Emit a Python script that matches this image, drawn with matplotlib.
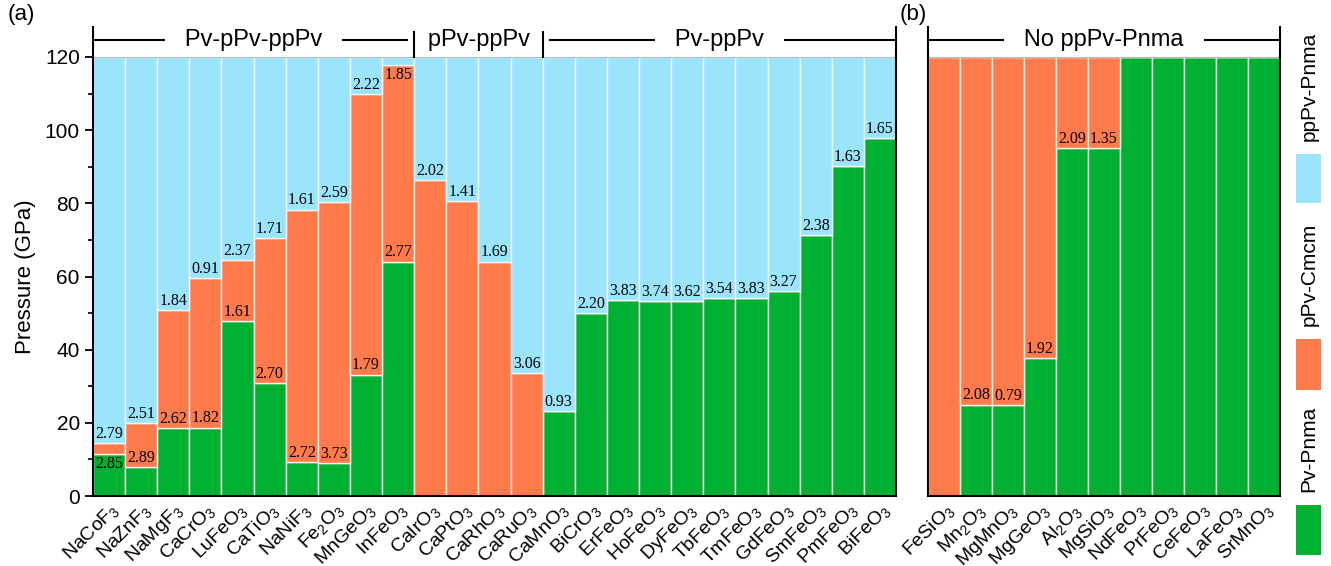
import matplotlib
matplotlib.use('Agg')
import matplotlib.pyplot as plt
import matplotlib.transforms as mtransforms
from matplotlib.patches import Rectangle
from matplotlib.ticker import MultipleLocator

plt.rcParams['font.family'] = ['Liberation Sans', 'DejaVu Sans']
plt.rcParams['mathtext.fontset'] = 'custom'
plt.rcParams['mathtext.rm'] = 'Liberation Sans'
plt.rcParams['mathtext.default'] = 'regular'

BLUE = '#9BE5FC'
ORANGE = '#FF7B4B'
GREEN = '#00B030'
TOP = 120

# panel (a)
left_names = ['NaCoF$_3$', 'NaZnF$_3$', 'NaMgF$_3$', 'CaCrO$_3$', 'LuFeO$_3$', 'CaTiO$_3$',
              'NaNiF$_3$', 'Fe$_2$O$_3$', 'MnGeO$_3$', 'InFeO$_3$',
              'CaIrO$_3$', 'CaPtO$_3$', 'CaRhO$_3$', 'CaRuO$_3$',
              'CaMnO$_3$', 'BiCrO$_3$', 'ErFeO$_3$', 'HoFeO$_3$', 'DyFeO$_3$', 'TbFeO$_3$',
              'TmFeO$_3$', 'GdFeO$_3$', 'SmFeO$_3$', 'PmFeO$_3$', 'BiFeO$_3$']
# Pv -> pPv (or Pv -> ppPv) transition pressure
left_pv = [11.4, 7.8, 18.5, 18.7, 47.9, 30.9, 9.4, 8.9, 33.2, 64.1,
           0, 0, 0, 0,
           23.3, 50.1, 53.5, 53.2, 53.3, 54.0, 54.2, 56.1, 71.4, 90.3, 97.8]
# pPv -> ppPv transition pressure
left_ppv = [14.5, 20.0, 50.8, 59.6, 64.5, 70.5, 78.3, 80.4, 109.9, 117.7,
            86.4, 80.6, 64.1, 33.5,
            23.3, 50.1, 53.5, 53.2, 53.3, 54.0, 54.2, 56.1, 71.4, 90.3, 97.8]
left_pv_lab = ['2.85', '2.89', '2.62', '1.82', '1.61', '2.70', '2.72', '3.73', '1.79', '2.77',
               None, None, None, None,
               '0.93', '2.20', '3.83', '3.74', '3.62', '3.54', '3.83', '3.27', '2.38', '1.63', '1.65']
left_ppv_lab = ['2.79', '2.51', '1.84', '0.91', '2.37', '1.71', '1.61', '2.59', '2.22', '1.85',
                '2.02', '1.41', '1.69', '3.06'] + [None] * 11
left_groups = [(0, 9, 'Pv-pPv-ppPv'), (10, 13, 'pPv-ppPv'), (14, 24, 'Pv-ppPv')]

# panel (b)
right_names = ['FeSiO$_3$', 'Mn$_2$O$_3$', 'MgMnO$_3$', 'MgGeO$_3$', 'Al$_2$O$_3$', 'MgSiO$_3$',
               'NdFeO$_3$', 'PrFeO$_3$', 'CeFeO$_3$', 'LaFeO$_3$', 'SrMnO$_3$']
right_pv = [0, 25.0, 24.9, 37.6, 95.2, 95.2, 120, 120, 120, 120, 120]
right_ppv = [120] * 11
right_pv_lab = [None, '2.08', '0.79', '1.92', '2.09', '1.35', None, None, None, None, None]
right_groups = [(0, 10, 'No ppPv-Pnma')]

fig = plt.figure(figsize=(13.31, 5.66), dpi=100)
axa = fig.add_axes([93 / 1331, 70 / 566, 803 / 1331, 439 / 566])
axb = fig.add_axes([928 / 1331, 70 / 566, 352 / 1331, 439 / 566])


def label(ax, x, y, gap, txt):
    # value text sits just above the boundary, or inside below it when little room
    if gap < 4:
        ax.text(x, y - 0.4, txt, ha='center', va='top', fontsize=11.5,
                family='Liberation Serif')
    else:
        ax.text(x, y + 0.3, txt, ha='center', va='bottom', fontsize=11.5,
                family='Liberation Serif')


def panel(ax, names, pv, ppv, pv_lab, ppv_lab, groups):
    x = list(range(len(names)))
    mid = [b - a for a, b in zip(pv, ppv)]
    top = [TOP - b for b in ppv]
    kw = dict(width=1.0, edgecolor='#F4F4F4', linewidth=1.0)
    ax.bar(x, pv, color=GREEN, **kw)
    ax.bar(x, mid, bottom=pv, color=ORANGE, **kw)
    ax.bar(x, top, bottom=ppv, color=BLUE, **kw)
    for i in x:
        if pv_lab[i]:
            label(ax, i, pv[i], ppv[i] - pv[i] if ppv[i] > pv[i] else TOP - pv[i], pv_lab[i])
        if ppv_lab and ppv_lab[i]:
            label(ax, i, ppv[i], TOP - ppv[i], ppv_lab[i])
    ax.set_xlim(-0.5, len(names) - 0.5)
    ax.set_ylim(0, TOP)
    ax.set_xticks(x)
    ax.set_xticklabels(names, rotation=45, ha='right', rotation_mode='anchor', fontsize=14)
    off = mtransforms.ScaledTranslation(0.08, 0, fig.dpi_scale_trans)
    for t in ax.get_xticklabels():
        t.set_transform(t.get_transform() + off)
    ax.tick_params(axis='x', length=0, pad=3)
    for s in ['left', 'right', 'bottom']:
        ax.spines[s].set_linewidth(1.5)
    ax.spines['top'].set_color('#BBBBBB')
    ax.spines['top'].set_linewidth(0.8)
    # group brackets above the panel
    yb = 124.6
    ax.plot([-0.5, len(names) - 0.5], [yb, yb], color='black', lw=1.5, clip_on=False, zorder=5)
    for a, b, name in groups:
        ax.text((a + b) / 2, yb, '   ' + name + '   ', ha='center', va='center', fontsize=17,
                bbox=dict(facecolor='white', edgecolor='none', pad=0), zorder=6, clip_on=False)
    ax.plot([-0.5, -0.5], [TOP, 128.2], color='black', lw=1.5, clip_on=False, zorder=7)
    ax.plot([len(names) - 0.5] * 2, [TOP, 128.2], color='black', lw=1.5, clip_on=False, zorder=7)
    for a, b, name in groups[1:]:
        ax.plot([a - 0.5, a - 0.5], [TOP, 126.8], color='black', lw=1.5, clip_on=False, zorder=7)


panel(axa, left_names, left_pv, left_ppv, left_pv_lab, left_ppv_lab, left_groups)
panel(axb, right_names, right_pv, right_ppv, right_pv_lab, None, right_groups)

axa.yaxis.set_major_locator(MultipleLocator(20))
axa.yaxis.set_minor_locator(MultipleLocator(10))
axa.tick_params(axis='y', which='major', direction='out', length=6, width=1.3, labelsize=15)
axa.tick_params(axis='y', which='minor', direction='out', length=3.5, width=1.2)
axa.set_ylabel('Pressure (GPa)', fontsize=16, labelpad=6)
axb.set_yticks([])

fig.text(8 / 1331, 1 - 4 / 566, '(a)', fontsize=16, ha='left', va='top')
fig.text(900 / 1331, 1 - 4 / 566, '(b)', fontsize=16, ha='left', va='top')

# legend strip on the right
axl = fig.add_axes([1290 / 1331, 0, 41 / 1331, 1])
axl.set_xlim(1290, 1331)
axl.set_ylim(566, 0)
axl.axis('off')
legend = [('ppPv-Pnma', BLUE, 86, 154, 203),
          ('pPv-Cmcm', ORANGE, 274, 339, 390),
          ('Pv-Pnma', GREEN, 449, 505, 555)]
for name, col, ty, y0, y1 in legend:
    axl.add_patch(Rectangle((1296, y0), 25, y1 - y0, facecolor=col, edgecolor='none'))
    axl.text(1309, ty, name, rotation=90, ha='center', va='center', fontsize=15)

fig.savefig('out.png', dpi=100)
